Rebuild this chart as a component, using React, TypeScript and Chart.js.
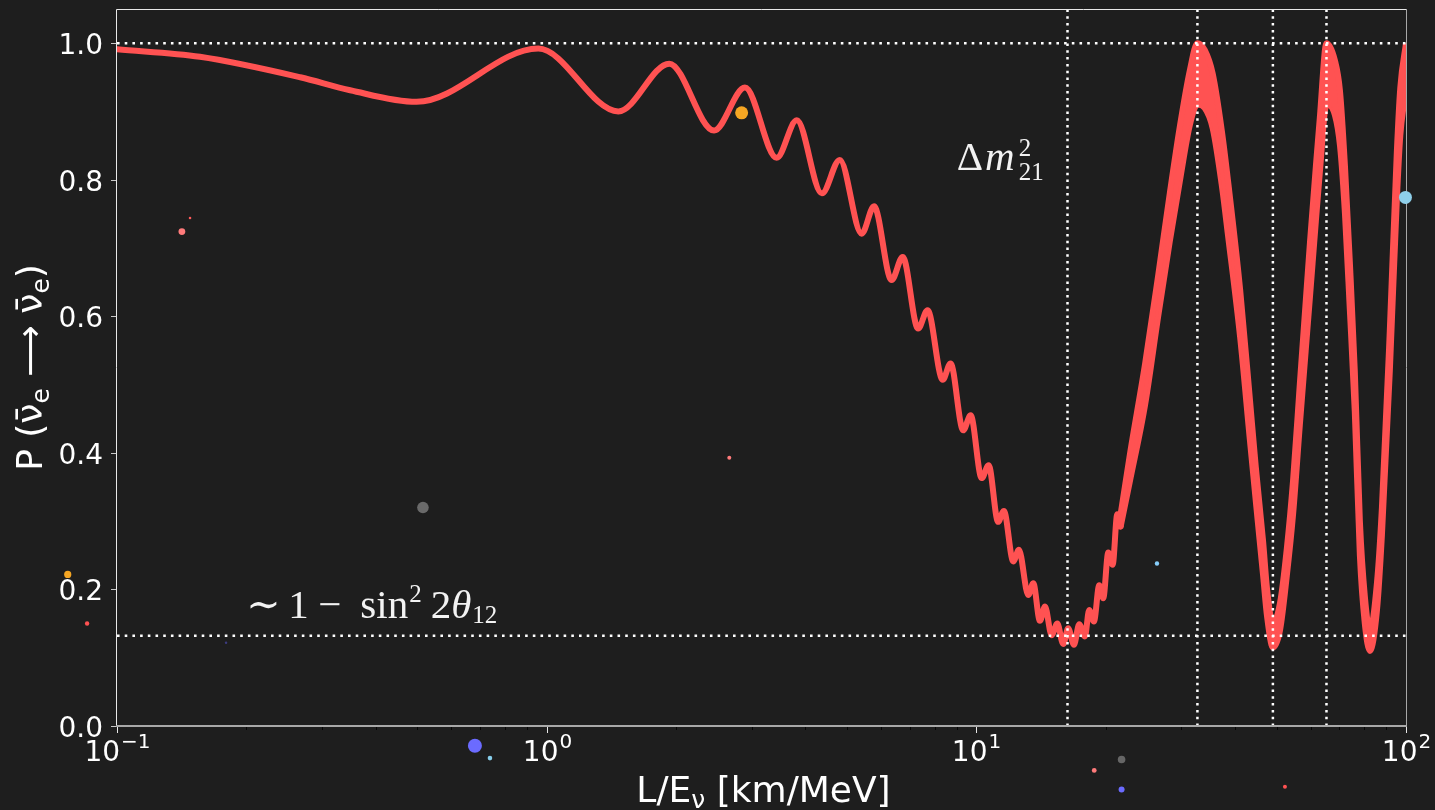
import React, { useEffect, useRef } from 'react';
import { Chart, registerables } from 'chart.js';

Chart.register(...registerables);

const BG = '#1e1e1e';
const RED = '#ff5252';

// Survival probability where the fast wiggles are resolved: successive extrema
const curveX = [
  0.1, 0.156, 0.267, 0.349, 0.498, 0.956, 1.468, 1.929, 2.452, 2.894, 3.43, 3.82,
  4.37, 4.81, 5.41, 5.78, 6.35, 6.74, 7.32, 7.70, 8.35, 8.71, 9.32, 9.70,
  10.29, 10.68, 11.24, 11.59, 12.19, 12.56, 13.21, 13.57, 14.06, 14.45, 14.97, 15.43,
  15.93, 16.36, 16.87, 17.36, 17.89, 18.31, 18.78, 19.32, 19.74, 20.28, 20.76, 21.28, 21.67,
];
const curveP = [
  0.991, 0.980, 0.950, 0.931, 0.914, 0.992, 0.900, 0.970, 0.872, 0.935, 0.832, 0.887,
  0.780, 0.829, 0.721, 0.761, 0.653, 0.687, 0.582, 0.609, 0.507, 0.531, 0.433, 0.455,
  0.363, 0.382, 0.299, 0.315, 0.241, 0.258, 0.192, 0.209, 0.154, 0.175, 0.133, 0.150,
  0.120, 0.143, 0.119, 0.149, 0.131, 0.170, 0.153, 0.206, 0.187, 0.254, 0.236, 0.310, 0.292,
];

// Unresolved fast oscillation: upper and lower edges of the band
const bandX = [
  21.67, 22.8, 24.7, 26.5, 28.2, 29.8, 31.4, 32.7, 34.0, 35.5, 37.3, 38.5, 41.1, 43.3,
  44.7, 46.5, 47.5, 49.0, 50.9, 52.8, 54.6, 56.6, 59.8, 61.7, 63.0, 65.3, 68.3, 70.2,
  72.1, 74.0, 76.0, 78.1, 80.2, 82.4, 85.6, 87.9, 91.7, 95.2, 97.0, 100,
];
const bandUpper = [
  0.31, 0.40, 0.53, 0.66, 0.78, 0.88, 0.96, 1.00, 0.99, 0.955, 0.87, 0.80, 0.64, 0.48,
  0.38, 0.27, 0.20, 0.15, 0.18, 0.26, 0.36, 0.50, 0.71, 0.82, 0.89, 1.00, 0.975, 0.93,
  0.82, 0.68, 0.52, 0.30, 0.19, 0.14, 0.21, 0.32, 0.58, 0.84, 0.935, 1.00,
];
const bandLower = [
  0.292, 0.36, 0.47, 0.60, 0.71, 0.80, 0.88, 0.91, 0.905, 0.875, 0.79, 0.72, 0.57, 0.42,
  0.33, 0.22, 0.16, 0.115, 0.14, 0.22, 0.31, 0.44, 0.63, 0.74, 0.81, 0.91, 0.895, 0.85,
  0.75, 0.61, 0.46, 0.25, 0.15, 0.11, 0.17, 0.28, 0.52, 0.77, 0.865, 0.93,
];

// Reference levels and oscillation marks
const refLevels = [1.0, 0.132];
const refMarks = [16.3, 32.7, 49.0, 65.3];

// Scattered markers
const dotX = [0.1479, 0.1416, 0.5153, 2.661, 2.843, 0.0768, 0.0852, 0.1794, 26.33, 99.7, 0.6808, 0.7379, 21.78, 18.81, 21.78, 52.27];
const dotY = [0.744, 0.724, 0.320, 0.393, 0.898, 0.222, 0.150, 0.122, 0.238, 0.774, -0.029, -0.047, -0.049, -0.065, -0.093, -0.089];
const dotR = [1.3, 3.4, 5.8, 2.0, 6.5, 3.6, 2.2, 1.2, 2.2, 6.5, 7.0, 2.3, 3.8, 2.4, 3.0, 2.0];
const dotColor = [
  '#ff5a5a', '#ff7b7b', '#6a6a6a', '#ff7b7b', '#f5a623', '#f5a623', '#ff5252', '#3c3c80',
  '#87cefa', '#8ecfea', '#6b6bff', '#87ceeb', '#666666', '#ff7b7b', '#6b6bff', '#ff5252',
];

// Axis ticks
const yTicks = [0, 0.2, 0.4, 0.6, 0.8, 1.0];
const yTickLabels = ['0.0', '0.2', '0.4', '0.6', '0.8', '1.0'];
const xDecades = [0.1, 1, 10, 100];
const xDecadeExps = ['\u22121', '0', '1', '2'];

const SANS = '"DejaVu Sans", sans-serif';
const SERIF = '"Liberation Serif", "DejaVu Serif", serif';

type Run = { t: string; font: string; dy?: number; gap?: number };

function runsWidth(ctx: CanvasRenderingContext2D, runs: Run[]) {
  return runs.reduce((w, r) => {
    ctx.font = r.font;
    return w + ctx.measureText(r.t).width + (r.gap || 0);
  }, 0);
}

function drawRuns(ctx: CanvasRenderingContext2D, runs: Run[], x: number, y: number) {
  let cx = x;
  for (const r of runs) {
    ctx.font = r.font;
    ctx.fillText(r.t, cx, y + (r.dy || 0));
    cx += ctx.measureText(r.t).width + (r.gap || 0);
  }
  return cx;
}

const decor = {
  id: 'decor',
  beforeDraw(chart: any) {
    const { ctx, width, height } = chart;
    ctx.save();
    ctx.fillStyle = BG;
    ctx.fillRect(0, 0, width, height);
    ctx.restore();
  },
  afterDraw(chart: any) {
    const ctx: CanvasRenderingContext2D = chart.ctx;
    const a = chart.chartArea;
    const xs = chart.scales.x;
    const ys = chart.scales.y;
    ctx.save();

    // spines
    ctx.lineWidth = 1;
    ctx.strokeStyle = '#e8e8e8';
    ctx.beginPath();
    ctx.moveTo(a.left - 0.5, a.bottom);
    ctx.lineTo(a.left - 0.5, a.top + 0.5);
    ctx.lineTo(a.right, a.top + 0.5);
    ctx.stroke();
    ctx.strokeStyle = '#a8a8a8';
    ctx.beginPath();
    ctx.moveTo(a.right + 0.5, a.top);
    ctx.lineTo(a.right + 0.5, a.bottom);
    ctx.stroke();
    ctx.lineWidth = 2;
    ctx.beginPath();
    ctx.moveTo(a.left - 1, a.bottom);
    ctx.lineTo(a.right + 1, a.bottom);
    ctx.stroke();

    // y ticks and labels
    ctx.lineWidth = 1;
    ctx.strokeStyle = '#c8c8c8';
    ctx.fillStyle = '#ffffff';
    ctx.textAlign = 'right';
    ctx.textBaseline = 'alphabetic';
    ctx.font = `28px ${SANS}`;
    yTicks.forEach((v, i) => {
      const py = Math.round(ys.getPixelForValue(v)) + 0.5;
      ctx.beginPath();
      ctx.moveTo(a.left - 6, py);
      ctx.lineTo(a.left - 1, py);
      ctx.stroke();
      ctx.fillText(yTickLabels[i], a.left - 14, py + 10.3);
    });

    // x minor ticks
    ctx.strokeStyle = '#050505';
    for (let d = 0; d < xDecades.length - 1; d++) {
      for (let m = 2; m <= 9; m++) {
        const px = Math.round(xs.getPixelForValue(xDecades[d] * m)) + 0.5;
        ctx.beginPath();
        ctx.moveTo(px, a.bottom + 1);
        ctx.lineTo(px, a.bottom + 4);
        ctx.stroke();
      }
    }
    // x major ticks and labels
    ctx.strokeStyle = '#e8e8e8';
    ctx.textAlign = 'left';
    xDecades.forEach((v, i) => {
      const px = Math.round(xs.getPixelForValue(v)) + 0.5;
      ctx.beginPath();
      ctx.moveTo(px, a.bottom + 1);
      ctx.lineTo(px, a.bottom + 7);
      ctx.stroke();
      const runs: Run[] = [
        { t: '10', font: `28px ${SANS}`, gap: 1 },
        { t: xDecadeExps[i], font: `20px ${SANS}`, dy: -13 },
      ];
      const w = runsWidth(ctx, runs);
      drawRuns(ctx, runs, px - w / 2, a.bottom + 35);
    });

    // axis titles
    const xt: Run[] = [
      { t: 'L/E', font: `36px ${SANS}` },
      { t: '\u03bd', font: `25px ${SANS}`, dy: 6 },
      { t: ' [km/MeV]', font: `36px ${SANS}` },
    ];
    const xw = runsWidth(ctx, xt);
    drawRuns(ctx, xt, (a.left + a.right) / 2 - xw / 2 + 2, a.bottom + 76);

    const nubar = '\u03bd\u0304';
    const yt: Run[] = [
      { t: 'P (', font: `36px ${SANS}` },
      { t: nubar, font: `36px ${SANS}` },
      { t: 'e', font: `25px ${SANS}`, dy: 7 },
      { t: ' \u27f6 ', font: `36px ${SANS}` },
      { t: nubar, font: `36px ${SANS}` },
      { t: 'e', font: `25px ${SANS}`, dy: 7 },
      { t: ')', font: `36px ${SANS}` },
    ];
    const yw = runsWidth(ctx, yt);
    ctx.save();
    ctx.translate(42, (a.top + a.bottom) / 2);
    ctx.rotate(-Math.PI / 2);
    drawRuns(ctx, yt, -yw / 2, 0);
    ctx.restore();

    // annotations
    ctx.fillStyle = '#f2f2f2';
    const big = `41px ${SERIF}`;
    const bigIt = `italic 41px ${SERIF}`;
    const small = `25px ${SERIF}`;

    const dx = xs.getPixelForValue(9.0);
    const dy = ys.getPixelForValue(0.814);
    const mEnd = drawRuns(ctx, [
      { t: '\u0394', font: big, gap: 2 },
      { t: 'm', font: bigIt, gap: 4 },
    ], dx, dy);
    ctx.font = small;
    ctx.fillText('2', mEnd, dy - 14);
    ctx.fillText('21', mEnd, dy + 10);

    const sx = xs.getPixelForValue(0.2);
    const sy = ys.getPixelForValue(0.158);
    ctx.font = big;
    ctx.fillText('\u223c', sx, sy);
    ctx.fillText('1', sx + 42, sy);
    ctx.fillText('\u2212', sx + 72, sy);
    const sinEnd = drawRuns(ctx, [{ t: 'sin', font: big, gap: 1 }], sx + 114, sy);
    ctx.font = small;
    ctx.fillText('2', sinEnd, sy - 16);
    const twoX = sinEnd + ctx.measureText('2').width + 9;
    const thEnd = drawRuns(ctx, [
      { t: '2', font: big },
      { t: '\u03b8', font: bigIt, gap: 1 },
    ], twoX, sy);
    ctx.font = small;
    ctx.fillText('12', thEnd, sy + 5);

    // scattered markers, drawn in data space and allowed outside the frame
    dotX.forEach((v, i) => {
      const px = xs.getPixelForValue(v);
      const py = ys.getPixelForValue(dotY[i]);
      ctx.beginPath();
      ctx.arc(px, py, dotR[i], 0, Math.PI * 2);
      ctx.fillStyle = dotColor[i];
      ctx.fill();
    });

    ctx.restore();
  },
};

export default function App() {
  const canvasRef = useRef<HTMLCanvasElement | null>(null);

  useEffect(() => {
    document.body.style.margin = '0';
    document.body.style.background = BG;
    const canvas = canvasRef.current;
    if (!canvas) return;

    const pts = (xs: number[], ys: number[]) => xs.map((x, i) => ({ x, y: ys[i] }));
    const dotted = (data: { x: number; y: number }[], dash: number[]) => ({
      data,
      showLine: true,
      borderColor: '#ffffff',
      borderWidth: 2.5,
      borderDash: dash,
      pointRadius: 0,
      fill: false,
      order: 1,
    });

    const chart = new Chart(canvas, {
      type: 'line',
      data: {
        datasets: [
          ...refLevels.map((v) => dotted([{ x: 0.1, y: v }, { x: 100, y: v }], [2.6, 5.1])),
          ...refMarks.map((v) => dotted([{ x: v, y: 0 }, { x: v, y: 1.05 }], [2.5, 4.3])),
          {
            data: pts(curveX, curveP),
            showLine: true,
            borderColor: RED,
            borderWidth: 6,
            borderCapStyle: 'round',
            borderJoinStyle: 'round',
            cubicInterpolationMode: 'monotone',
            pointRadius: 0,
            fill: false,
            order: 2,
          },
          {
            data: pts(bandX, bandUpper),
            showLine: true,
            borderColor: RED,
            backgroundColor: RED,
            borderWidth: 6,
            borderJoinStyle: 'round',
            cubicInterpolationMode: 'monotone',
            pointRadius: 0,
            fill: '+1',
            order: 3,
          },
          {
            data: pts(bandX, bandLower),
            showLine: true,
            borderColor: RED,
            borderWidth: 6,
            borderJoinStyle: 'round',
            cubicInterpolationMode: 'monotone',
            pointRadius: 0,
            fill: false,
            order: 3,
          },
        ],
      },
      options: {
        animation: false,
        responsive: false,
        events: [],
        layout: { padding: { left: 117, top: 9, right: 29, bottom: 84 } },
        scales: {
          x: { type: 'logarithmic', min: 0.1, max: 100, display: false },
          y: { type: 'linear', min: 0, max: 1.05, display: false },
        },
        plugins: { legend: { display: false }, tooltip: { enabled: false } },
      },
      plugins: [decor],
    } as any);

    return () => chart.destroy();
  }, []);

  return (
    <div style={{ position: 'fixed', left: 0, top: 0, width: 1435, height: 810, background: BG }}>
      <canvas ref={canvasRef} width={1435} height={810} style={{ display: 'block' }} />
    </div>
  );
}
